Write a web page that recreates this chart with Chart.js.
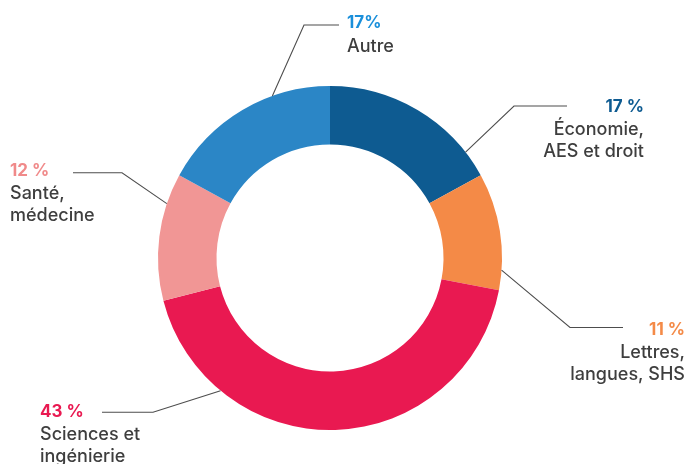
<!DOCTYPE html>
<html>
<head>
<meta charset="utf-8">
<script src="https://cdn.jsdelivr.net/npm/chart.js@4/dist/chart.umd.min.js"></script>
<style>
  html, body { margin: 0; padding: 0; background: #ffffff; }
  #wrap { width: 689px; height: 464px; }
</style>
</head>
<body>
<div id="wrap"><canvas id="c" width="689" height="464"></canvas></div>
<script>
// ---- data ----
const categories = ['Économie, AES et droit', 'Lettres, langues, SHS', 'Sciences et ingénierie', 'Santé, médecine', 'Autre'];
const values = [17, 11, 43, 12, 17];
const percentLabels = ['17 %', '11 %', '43 %', '12 %', '17%'];
const nameLines = [['Économie,', 'AES et droit'], ['Lettres,', 'langues, SHS'], ['Sciences et', 'ingénierie'], ['Santé,', 'médecine'], ['Autre']];

// ---- styles ----
const sliceColors = ['#0e5b91', '#f48a47', '#e91951', '#f19695', '#2b86c6'];
const pctColors = ['#0e5b91', '#f48a47', '#e91951', '#f08a8a', '#1a8fda'];
const textColor = '#3e3e3e';
const FONT = 'Inter, "Open Sans", "Liberation Sans", Arial, sans-serif';

// label layout: anchor x, first baseline y, alignment, where the leader meets the arc (fraction of the slice), elbow & end of leader
const labelLayout = [
  { x: 644, y: 111.7, align: 'right', frac: 0.85, elbow: [514, 106], end: [567, 106] },
  { x: 685, y: 335,   align: 'right', frac: 0.83, elbow: [570, 327.5], end: [623, 327.5] },
  { x: 40,  y: 416.5, align: 'left',  frac: 0.767, elbow: [153, 412.3], end: [102, 412.3] },
  { x: 10,  y: 175.7, align: 'left',  frac: 0.76, elbow: [122, 172.7], end: [73, 172.7] },
  { x: 347, y: 28.3,  align: 'left',  frac: 0.68, elbow: [304, 25], end: [339, 25] }
];

const labelsPlugin = {
  id: 'leaderLabels',
  afterDraw(chart) {
    const ctx = chart.ctx;
    const arcs = chart.getDatasetMeta(0).data;
    arcs.forEach((arc, i) => {
      const p = arc.getProps(['x', 'y', 'startAngle', 'endAngle', 'outerRadius'], true);
      const L = labelLayout[i];
      const a = p.startAngle + (p.endAngle - p.startAngle) * L.frac;
      const sx = p.x + Math.cos(a) * p.outerRadius;
      const sy = p.y + Math.sin(a) * p.outerRadius;
      ctx.save();
      ctx.strokeStyle = '#4d4d4d';
      ctx.lineWidth = 1.1;
      ctx.beginPath();
      ctx.moveTo(sx, sy);
      ctx.lineTo(L.elbow[0], L.elbow[1]);
      ctx.lineTo(L.end[0], L.end[1]);
      ctx.stroke();

      ctx.textAlign = L.align;
      ctx.textBaseline = 'alphabetic';
      ctx.fillStyle = pctColors[i];
      ctx.font = '700 17px ' + FONT;
      ctx.fillText(percentLabels[i], L.x, L.y);
      ctx.fillStyle = textColor;
      ctx.font = '500 18px ' + FONT;
      nameLines[i].forEach((t, k) => {
        ctx.fillText(t, L.x, L.y + 23.3 + k * 21.7);
      });
      ctx.restore();
    });
  }
};

new Chart(document.getElementById('c'), {
  type: 'doughnut',
  data: {
    labels: categories,
    datasets: [{
      data: values,
      backgroundColor: sliceColors,
      borderWidth: 0,
      hoverOffset: 0,
      offset: 0
    }]
  },
  options: {
    responsive: false,
    animation: false,
    events: [],
    radius: 172,
    cutout: '66%',
    layout: { padding: { left: 158, right: 187, top: 86, bottom: 34 } },
    plugins: {
      legend: { display: false },
      tooltip: { enabled: false }
    }
  },
  plugins: [labelsPlugin]
});
</script>
</body>
</html>
